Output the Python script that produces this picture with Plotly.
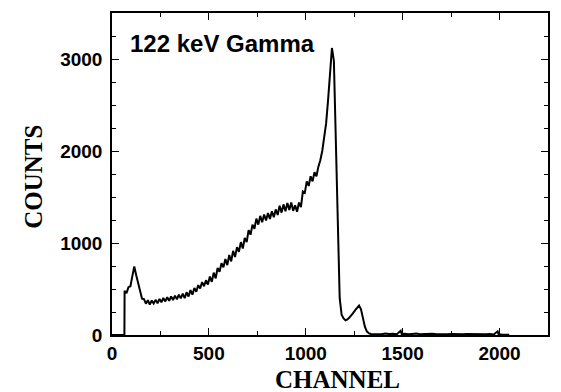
import plotly.graph_objects as go

# Channel positions (x) and counts (y)
channels_start = [0, 64]
counts_start = [0, 0]

channels_main = list(range(65, 1355, 10))
counts_main = [
    # 65 - 155
    480, 455, 520, 530, 640, 745, 650, 560, 450, 395,
    # 165 - 255
    390, 340, 378, 330, 375, 342, 382, 345, 392, 355,
    # 265 - 355
    402, 365, 410, 372, 420, 380, 428, 388, 438, 398,
    # 365 - 455
    450, 400, 465, 418, 488, 438, 512, 470, 542, 505,
    # 465 - 555
    575, 530, 595, 548, 635, 578, 678, 615, 728, 688,
    # 565 - 655
    780, 735, 825, 760, 870, 800, 915, 848, 955, 905,
    # 665 - 755
    1010, 940, 1055, 1010, 1140, 1090, 1200, 1155, 1265, 1200,
    # 765 - 855
    1295, 1225, 1310, 1245, 1325, 1262, 1345, 1280, 1365, 1305,
    # 865 - 955
    1405, 1330, 1420, 1345, 1435, 1360, 1440, 1350, 1410, 1340,
    # 965 - 1055
    1440, 1390, 1560, 1545, 1670, 1620, 1725, 1670, 1770, 1725,
    # 1065 - 1155
    1830, 1900, 2000, 2130, 2300, 2550, 2850, 3120, 2980, 2000,
    # 1165 - 1255
    1050, 400, 220, 180, 160, 170, 190, 210, 240, 270,
    # 1265 - 1345
    300, 320, 280, 180, 90, 40, 20, 12, 10,
]

channels_tail = [1370, 1390, 1410, 1430, 1450, 1470, 1490, 1495, 1510, 1530,
                 1550, 1570, 1590, 1610, 1630, 1650, 1670, 1690, 1710, 1730,
                 1750, 1770, 1790, 1810, 1830, 1850, 1870, 1890, 1910, 1930,
                 1950, 1970, 1990, 1995, 2010, 2030, 2050]
counts_tail = [12, 8, 15, 10, 14, 9, 45, 10, 13, 8,
               12, 16, 9, 12, 8, 14, 10, 7, 12, 9,
               11, 8, 13, 7, 10, 8, 12, 6, 9, 7,
               10, 6, 40, 8, 6, 5, 3]

channels = channels_start + channels_main + channels_tail
counts = counts_start + counts_main + counts_tail

title_text = "122 keV Gamma"
x_title = "CHANNEL"
y_title = "COUNTS"

fig = go.Figure()
fig.add_trace(go.Scatter(x=channels, y=counts, mode="lines",
                         line=dict(color="black", width=2),
                         showlegend=False, hoverinfo="skip"))

tickfont = dict(family="Liberation Sans, Arial, sans-serif", size=19,
                color="black", weight="bold")

axis_common = dict(
    showgrid=False, zeroline=False, showline=True, linecolor="black",
    linewidth=1.5, mirror="ticks", ticks="inside", ticklen=7, tickwidth=1.2,
    tickcolor="black", tickfont=tickfont,
)

fig.update_xaxes(range=[0, 2250], tickvals=[0, 500, 1000, 1500, 2000],
                 minor=dict(dtick=250, tick0=0, ticks="inside", ticklen=4,
                            tickwidth=1.2, tickcolor="black"),
                 **axis_common)
fig.update_yaxes(range=[0, 3500], tickvals=[0, 1000, 2000, 3000],
                 minor=dict(dtick=250, tick0=0, ticks="inside", ticklen=4,
                            tickwidth=1.2, tickcolor="black"),
                 ticklabelstandoff=4,
                 **axis_common)

fig.update_layout(
    width=561, height=392,
    margin=dict(l=112, r=11, t=11, b=57),
    plot_bgcolor="white", paper_bgcolor="white",
    annotations=[
        dict(text=title_text, xref="paper", yref="paper", x=0.037, y=0.904,
             xanchor="left", yanchor="middle", showarrow=False,
             font=dict(family="Liberation Sans, Arial, sans-serif", size=24,
                       color="black", weight="bold")),
        dict(text=x_title, xref="paper", yref="paper", x=0.518, y=-0.139,
             xanchor="center", yanchor="middle", showarrow=False,
             font=dict(family="Liberation Serif, Times New Roman, serif",
                       size=25, color="black", weight="bold")),
        dict(text=y_title, xref="paper", yref="paper", x=-0.18, y=0.49,
             xanchor="center", yanchor="middle", showarrow=False,
             textangle=-90,
             font=dict(family="Liberation Serif, Times New Roman, serif",
                       size=25, color="black", weight="bold")),
    ],
)

fig.write_html("out.html")
